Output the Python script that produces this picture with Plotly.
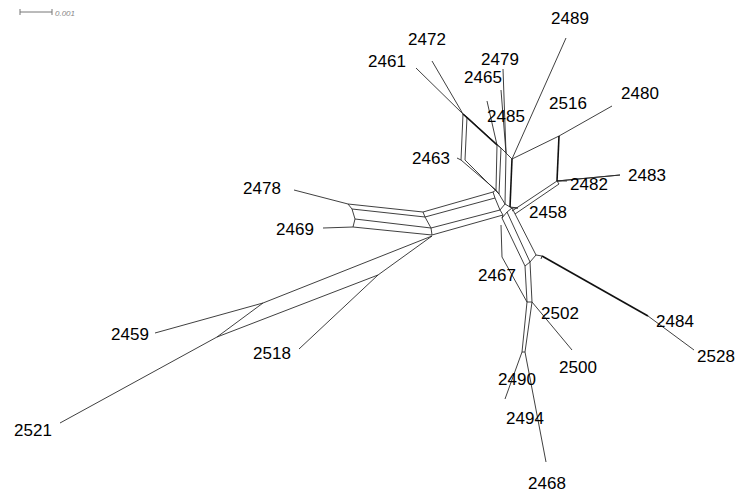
import plotly.graph_objects as go

# Split network layout (SplitsTree-style), node coordinates in drawing units
node_ids = [
    # taxa tips
    "t2461", "t2472", "t2479", "t2465", "t2485", "t2489", "t2480", "t2483", "t2482",
    "t2463", "t2478", "t2469", "t2459", "t2521", "t2518", "t2467", "t2484", "t2528",
    "t2500", "t2494", "t2468",
    # upper-left box and central column
    "a1", "a1b", "a2", "a2b",
    "b1", "b2", "b3", "b4",
    "c1", "c2", "c3", "c4", "c5", "c6",
    # upper-right box
    "r1", "r2", "r2b",
    # left band
    "l1a", "l2a", "l3a", "l4a", "l1b", "l2b", "l3b", "l4b", "l1c", "l2c", "l3c", "l4c",
    # lower-left parallelogram
    "e1", "e2", "e3",
    # lower-right band
    "f1a", "f2a", "f3a", "f4a", "f1b", "f2b", "f3b", "f4b", "f5b",
    "g1", "g2", "h1", "h2", "k2", "m1",
]
node_x = [
    416, 432, 503, 501, 487, 566, 612, 620, 567,
    457, 294, 323, 155, 60, 299, 501, 648, 694,
    572, 505, 546,
    463, 467, 461, 465,
    497, 501, 506, 512,
    496, 499, 505, 510, 512, 515,
    559, 557, 559,
    348, 352, 355, 353, 423, 425, 431, 432, 493, 495, 500, 503,
    263, 217, 378,
    502, 507, 512, 518, 525, 530, 536, 542, 541,
    527, 532, 522, 525, 502, 432,
]
node_y = [
    68, 61, 69, 90, 101, 38, 106, 175, 181,
    158, 190, 228, 333, 423, 349, 225, 316, 350,
    350, 399, 462,
    114, 117, 160, 160,
    145, 148, 153, 159,
    190, 194, 204, 207, 211, 214,
    136, 181, 184,
    204, 209, 219, 227, 212, 217, 228, 235, 192, 198, 210, 215,
    303, 337, 275,
    218, 212, 208, 208, 266, 262, 255, 256, 259,
    302, 302, 352, 352, 257, 236,
]

# Network edges (thin) as pairs of node ids
thin_from = [
    "t2461", "t2472", "a1", "a1b", "a1", "a1b", "a2", "a2b", "t2463",
    "t2485", "t2465", "t2479", "b1", "b2", "b3", "b1", "b2", "b3",
    "c1", "c2", "c3", "t2489", "b4", "r1", "r2", "t2483", "c5", "c6", "r2", "r2",
    "t2478", "l1a", "l2a", "l3a", "t2469",
    "l1a", "l2a", "l3a", "l4a", "l1b", "l2b", "l3b", "l4b",
    "l1b", "l2b", "l3b", "l1c", "l2c", "l3c", "l1c", "l3c", "l4c",
    "t2459", "e1", "t2521", "e2", "e3", "t2518", "e1",
    "f1a", "f2a", "f3a", "f4a", "f1a", "f2a", "f3a", "f1b", "f2b", "f3b",
    "f4b", "t2484",
    "f1b", "f2b", "g1", "t2467", "k2", "g2",
    "g1", "g2", "h1", "t2494", "h2", "c4",
]
thin_to = [
    "a1", "a1", "a1b", "b2", "a2", "a2b", "c1", "c2", "a2",
    "b1", "b3", "b3", "c1", "c2", "c3", "b2", "b3", "b4",
    "c2", "c3", "c4", "b4", "r1", "t2480", "r2b", "r2", "r2", "r2b", "t2482", "t2483",
    "l1a", "l2a", "l3a", "l4a", "l4a",
    "l1b", "l2b", "l3b", "l4b", "l1c", "l2c", "l3c", "l4c",
    "l2b", "l3b", "l4b", "l2c", "l3c", "l4c", "c1", "c3", "f1a",
    "e1", "m1", "e2", "e3", "m1", "e3", "e2",
    "f2a", "f3a", "f4a", "c4", "f1b", "f2b", "f3b", "f2b", "f3b", "f4b",
    "f5b", "t2528",
    "g1", "g2", "g2", "k2", "g1", "t2500",
    "h1", "h2", "h2", "h1", "t2468", "f3a",
]

# Heavier edges (long splits)
thick_from = ["b4", "a1", "f4b", "r1"]
thick_to = ["c4", "b1", "t2484", "r2"]

# Taxon labels
label_text = [
    "2489", "2472", "2479", "2461", "2465", "2516", "2480", "2485", "2463",
    "2483", "2482", "2478", "2458", "2469", "2467", "2502", "2484", "2459",
    "2528", "2518", "2500", "2490", "2494", "2521", "2468",
]
label_x = [
    570, 427, 500, 387, 483, 568, 640, 506, 431,
    647, 589, 262, 548, 295, 497, 560, 675, 130,
    716, 272, 578, 517, 525, 33, 547,
]
label_y = [
    20, 41, 61, 63, 79, 105, 95, 118, 160,
    177, 186, 190, 214, 231, 277, 315, 323, 336,
    358, 355, 369, 381, 420, 432, 485,
]

pos = {n: (x, y) for n, x, y in zip(node_ids, node_x, node_y)}


def segments(src, dst):
    xs, ys = [], []
    for a, b in zip(src, dst):
        xs += [pos[a][0], pos[b][0], None]
        ys += [pos[a][1], pos[b][1], None]
    return xs, ys


fig = go.Figure()

tx, ty = segments(thin_from, thin_to)
fig.add_trace(go.Scatter(x=tx, y=ty, mode="lines",
                         line=dict(color="#2a2a2a", width=0.9),
                         hoverinfo="skip", showlegend=False))

kx, ky = segments(thick_from, thick_to)
fig.add_trace(go.Scatter(x=kx, y=ky, mode="lines",
                         line=dict(color="#111111", width=1.6),
                         hoverinfo="skip", showlegend=False))

fig.add_trace(go.Scatter(x=label_x, y=label_y, mode="text", text=label_text,
                         textposition="middle center",
                         textfont=dict(family="Liberation Sans, Arial, sans-serif",
                                       size=17, color="#000000"),
                         hoverinfo="skip", showlegend=False))

# Scale bar
scale_x = [20, 52]
scale_y = 12
fig.add_trace(go.Scatter(
    x=[scale_x[0], scale_x[1], None, scale_x[0], scale_x[0], None, scale_x[1], scale_x[1]],
    y=[scale_y, scale_y, None, scale_y - 3, scale_y + 3, None, scale_y - 3, scale_y + 3],
    mode="lines", line=dict(color="#777777", width=1),
    hoverinfo="skip", showlegend=False))
fig.add_annotation(x=53, y=scale_y + 1, text="<i>0.001</i>", showarrow=False,
                   xanchor="left", yanchor="middle",
                   font=dict(family="Liberation Sans, Arial, sans-serif",
                             size=8, color="#888888"))

fig.update_layout(
    width=741, height=495,
    margin=dict(l=0, r=0, t=0, b=0),
    paper_bgcolor="white", plot_bgcolor="white",
    xaxis=dict(range=[0, 741], visible=False, fixedrange=True),
    yaxis=dict(range=[495, 0], visible=False, fixedrange=True),
)

fig.write_html("out.html")
